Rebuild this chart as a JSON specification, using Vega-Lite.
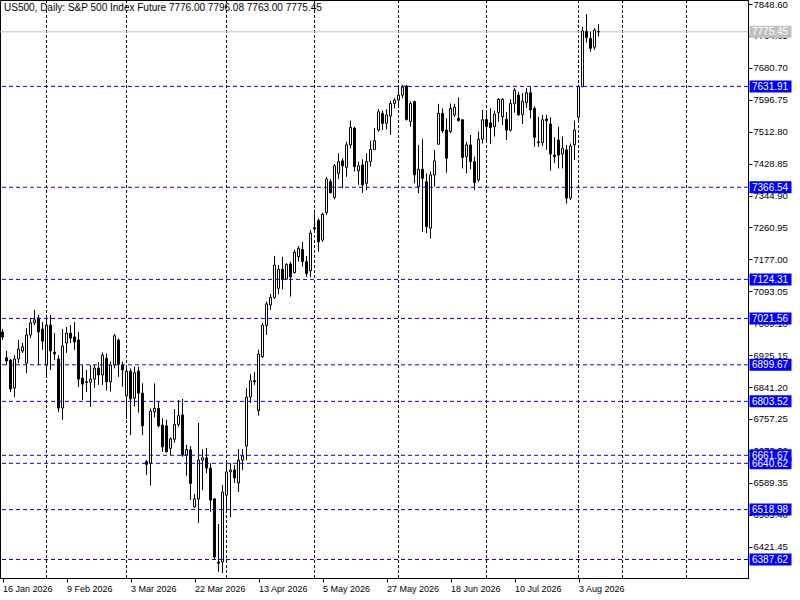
{
  "$schema": "https://vega.github.io/schema/vega-lite/v6.json",
  "width": 748,
  "height": 578,
  "autosize": {"type": "none"},
  "padding": {"left": 0, "top": 0, "right": 52, "bottom": 22},
  "background": "white",
  "config": {"view": {"stroke": "black", "strokeWidth": 1}, "scale": {"continuousPadding": 0}},
  "resolve": {"axis": {"x": "independent", "y": "independent"}},
  "datasets": {
    "candles": [
      {"i":0,"o":6986,"h":6994,"l":6965,"c":6973},
      {"i":1,"o":6918,"h":6936,"l":6899,"c":6910},
      {"i":2,"o":6912,"h":6915,"l":6828,"c":6836},
      {"i":3,"o":6839,"h":6925,"l":6815,"c":6915},
      {"i":4,"o":6915,"h":6965,"l":6904,"c":6941},
      {"i":5,"o":6936,"h":6957,"l":6931,"c":6947},
      {"i":6,"o":6904,"h":6996,"l":6878,"c":6978},
      {"i":7,"o":6978,"h":7023,"l":6970,"c":7010},
      {"i":8,"o":7010,"h":7044,"l":7004,"c":7018},
      {"i":9,"o":7023,"h":7031,"l":6899,"c":6986},
      {"i":10,"o":6994,"h":7012,"l":6939,"c":6962},
      {"i":11,"o":6899,"h":7031,"l":6865,"c":7004},
      {"i":12,"o":7004,"h":7031,"l":6886,"c":6936},
      {"i":13,"o":6933,"h":6983,"l":6912,"c":6928},
      {"i":14,"o":6915,"h":6925,"l":6776,"c":6786},
      {"i":15,"o":6786,"h":6994,"l":6755,"c":6949},
      {"i":16,"o":6957,"h":6999,"l":6931,"c":6983},
      {"i":17,"o":6983,"h":7004,"l":6957,"c":6970},
      {"i":18,"o":6973,"h":7012,"l":6939,"c":6960},
      {"i":19,"o":6965,"h":6986,"l":6841,"c":6862},
      {"i":20,"o":6865,"h":6899,"l":6807,"c":6849},
      {"i":21,"o":6855,"h":6886,"l":6828,"c":6853},
      {"i":22,"o":6854,"h":6899,"l":6789,"c":6862},
      {"i":23,"o":6862,"h":6899,"l":6839,"c":6891},
      {"i":24,"o":6891,"h":6907,"l":6847,"c":6873},
      {"i":25,"o":6873,"h":6932,"l":6847,"c":6925},
      {"i":26,"o":6917,"h":6930,"l":6832,"c":6855},
      {"i":27,"o":6855,"h":6908,"l":6829,"c":6899},
      {"i":28,"o":6899,"h":6981,"l":6890,"c":6976},
      {"i":29,"o":6965,"h":6969,"l":6868,"c":6901},
      {"i":30,"o":6899,"h":6908,"l":6842,"c":6886},
      {"i":31,"o":6818,"h":6895,"l":6757,"c":6883},
      {"i":32,"o":6883,"h":6890,"l":6715,"c":6810},
      {"i":33,"o":6812,"h":6895,"l":6790,"c":6879},
      {"i":34,"o":6883,"h":6895,"l":6774,"c":6825},
      {"i":35,"o":6825,"h":6851,"l":6715,"c":6739},
      {"i":36,"o":6645,"h":6649,"l":6610,"c":6638},
      {"i":37,"o":6641,"h":6785,"l":6582,"c":6778},
      {"i":38,"o":6776,"h":6851,"l":6761,"c":6785},
      {"i":39,"o":6785,"h":6803,"l":6735,"c":6739},
      {"i":40,"o":6741,"h":6759,"l":6671,"c":6684},
      {"i":41,"o":6739,"h":6755,"l":6669,"c":6671},
      {"i":42,"o":6680,"h":6709,"l":6662,"c":6705},
      {"i":43,"o":6704,"h":6783,"l":6695,"c":6743},
      {"i":44,"o":6743,"h":6807,"l":6737,"c":6766},
      {"i":45,"o":6768,"h":6810,"l":6658,"c":6662},
      {"i":46,"o":6662,"h":6689,"l":6608,"c":6677},
      {"i":47,"o":6676,"h":6686,"l":6544,"c":6588},
      {"i":48,"o":6526,"h":6560,"l":6523,"c":6547},
      {"i":49,"o":6547,"h":6747,"l":6484,"c":6649},
      {"i":50,"o":6649,"h":6678,"l":6570,"c":6655},
      {"i":51,"o":6655,"h":6681,"l":6615,"c":6628},
      {"i":52,"o":6628,"h":6641,"l":6513,"c":6544},
      {"i":53,"o":6547,"h":6549,"l":6386,"c":6394},
      {"i":54,"o":6381,"h":6481,"l":6355,"c":6378},
      {"i":55,"o":6381,"h":6584,"l":6352,"c":6565},
      {"i":56,"o":6557,"h":6644,"l":6513,"c":6618},
      {"i":57,"o":6618,"h":6641,"l":6499,"c":6623},
      {"i":58,"o":6623,"h":6636,"l":6589,"c":6602},
      {"i":59,"o":6589,"h":6678,"l":6565,"c":6649},
      {"i":60,"o":6649,"h":6678,"l":6623,"c":6660},
      {"i":61,"o":6686,"h":6839,"l":6649,"c":6815},
      {"i":62,"o":6815,"h":6876,"l":6799,"c":6858},
      {"i":63,"o":6858,"h":6881,"l":6847,"c":6855},
      {"i":64,"o":6779,"h":6939,"l":6766,"c":6928},
      {"i":65,"o":6921,"h":7010,"l":6918,"c":7004},
      {"i":66,"o":7003,"h":7066,"l":6978,"c":7060},
      {"i":67,"o":7057,"h":7086,"l":7044,"c":7077},
      {"i":68,"o":7077,"h":7186,"l":7073,"c":7162},
      {"i":69,"o":7101,"h":7162,"l":7085,"c":7151},
      {"i":70,"o":7151,"h":7184,"l":7098,"c":7123},
      {"i":71,"o":7125,"h":7167,"l":7123,"c":7164},
      {"i":72,"o":7165,"h":7171,"l":7079,"c":7131},
      {"i":73,"o":7142,"h":7202,"l":7140,"c":7196},
      {"i":74,"o":7184,"h":7212,"l":7171,"c":7206},
      {"i":75,"o":7203,"h":7223,"l":7158,"c":7171},
      {"i":76,"o":7171,"h":7186,"l":7131,"c":7140},
      {"i":77,"o":7147,"h":7254,"l":7131,"c":7246},
      {"i":78,"o":7260,"h":7298,"l":7246,"c":7257},
      {"i":79,"o":7279,"h":7285,"l":7197,"c":7223},
      {"i":80,"o":7228,"h":7300,"l":7223,"c":7296},
      {"i":81,"o":7300,"h":7394,"l":7294,"c":7388},
      {"i":82,"o":7381,"h":7388,"l":7351,"c":7352},
      {"i":83,"o":7340,"h":7428,"l":7335,"c":7423},
      {"i":84,"o":7403,"h":7456,"l":7388,"c":7434},
      {"i":85,"o":7436,"h":7443,"l":7364,"c":7423},
      {"i":86,"o":7419,"h":7486,"l":7394,"c":7478},
      {"i":87,"o":7478,"h":7542,"l":7469,"c":7524},
      {"i":88,"o":7522,"h":7526,"l":7408,"c":7421},
      {"i":89,"o":7410,"h":7434,"l":7373,"c":7423},
      {"i":90,"o":7425,"h":7440,"l":7352,"c":7373},
      {"i":91,"o":7377,"h":7456,"l":7359,"c":7434},
      {"i":92,"o":7434,"h":7489,"l":7421,"c":7466},
      {"i":93,"o":7466,"h":7522,"l":7465,"c":7489},
      {"i":94,"o":7517,"h":7572,"l":7513,"c":7565},
      {"i":95,"o":7561,"h":7568,"l":7517,"c":7535},
      {"i":96,"o":7535,"h":7572,"l":7519,"c":7557},
      {"i":97,"o":7554,"h":7594,"l":7504,"c":7587},
      {"i":98,"o":7587,"h":7601,"l":7574,"c":7596},
      {"i":99,"o":7596,"h":7636,"l":7579,"c":7609},
      {"i":100,"o":7609,"h":7636,"l":7601,"c":7630},
      {"i":101,"o":7633,"h":7636,"l":7542,"c":7545},
      {"i":102,"o":7539,"h":7592,"l":7526,"c":7587},
      {"i":103,"o":7592,"h":7594,"l":7377,"c":7399},
      {"i":104,"o":7368,"h":7478,"l":7351,"c":7414},
      {"i":105,"o":7414,"h":7493,"l":7250,"c":7390},
      {"i":106,"o":7381,"h":7403,"l":7246,"c":7263},
      {"i":107,"o":7259,"h":7408,"l":7232,"c":7399},
      {"i":108,"o":7399,"h":7465,"l":7368,"c":7436},
      {"i":109,"o":7480,"h":7586,"l":7478,"c":7561},
      {"i":110,"o":7561,"h":7574,"l":7510,"c":7515},
      {"i":111,"o":7517,"h":7548,"l":7405,"c":7443},
      {"i":112,"o":7513,"h":7587,"l":7509,"c":7574},
      {"i":113,"o":7557,"h":7586,"l":7552,"c":7577},
      {"i":114,"o":7548,"h":7603,"l":7539,"c":7542},
      {"i":115,"o":7544,"h":7545,"l":7416,"c":7445},
      {"i":116,"o":7447,"h":7486,"l":7403,"c":7478},
      {"i":117,"o":7478,"h":7504,"l":7414,"c":7434},
      {"i":118,"o":7434,"h":7447,"l":7359,"c":7379},
      {"i":119,"o":7386,"h":7513,"l":7381,"c":7493},
      {"i":120,"o":7493,"h":7570,"l":7482,"c":7544},
      {"i":121,"o":7545,"h":7561,"l":7486,"c":7526},
      {"i":122,"o":7536,"h":7574,"l":7480,"c":7524},
      {"i":123,"o":7526,"h":7568,"l":7500,"c":7559},
      {"i":124,"o":7563,"h":7601,"l":7539,"c":7598},
      {"i":125,"o":7552,"h":7601,"l":7530,"c":7598},
      {"i":126,"o":7545,"h":7565,"l":7491,"c":7517},
      {"i":127,"o":7517,"h":7598,"l":7513,"c":7587},
      {"i":128,"o":7586,"h":7627,"l":7563,"c":7622},
      {"i":129,"o":7609,"h":7618,"l":7554,"c":7557},
      {"i":130,"o":7558,"h":7614,"l":7533,"c":7593},
      {"i":131,"o":7589,"h":7627,"l":7575,"c":7615},
      {"i":132,"o":7615,"h":7630,"l":7548,"c":7570},
      {"i":133,"o":7574,"h":7579,"l":7473,"c":7498},
      {"i":134,"o":7486,"h":7552,"l":7473,"c":7484},
      {"i":135,"o":7484,"h":7557,"l":7475,"c":7544},
      {"i":136,"o":7546,"h":7557,"l":7465,"c":7542},
      {"i":137,"o":7533,"h":7551,"l":7410,"c":7454},
      {"i":138,"o":7451,"h":7498,"l":7430,"c":7447},
      {"i":139,"o":7491,"h":7526,"l":7416,"c":7451},
      {"i":140,"o":7454,"h":7500,"l":7416,"c":7469},
      {"i":141,"o":7465,"h":7478,"l":7324,"c":7338},
      {"i":142,"o":7338,"h":7482,"l":7333,"c":7475},
      {"i":143,"o":7478,"h":7542,"l":7438,"c":7517},
      {"i":144,"o":7551,"h":7636,"l":7544,"c":7631},
      {"i":145,"o":7631,"h":7789,"l":7630,"c":7778},
      {"i":146,"o":7776,"h":7822,"l":7747,"c":7761},
      {"i":147,"o":7758,"h":7776,"l":7723,"c":7732},
      {"i":148,"o":7735,"h":7785,"l":7728,"c":7780},
      {"i":149,"o":7776.00,"h":7796.08,"l":7763.00,"c":7775.45}
    ],
    "levels": [
      {"p":7631.91,"kind":"level"},
      {"p":7366.54,"kind":"level"},
      {"p":7124.31,"kind":"level"},
      {"p":7021.56,"kind":"level"},
      {"p":6899.67,"kind":"level"},
      {"p":6803.52,"kind":"level"},
      {"p":6661.67,"kind":"level"},
      {"p":6640.62,"kind":"level"},
      {"p":6518.98,"kind":"level"},
      {"p":6387.62,"kind":"level"},
      {"p":7775.45,"kind":"bid"}
    ],
    "grid": [
      {"i":11},{"i":31},{"i":56},{"i":78},{"i":99},{"i":121},{"i":144},{"i":155},{"i":171}
    ],
    "header": [
      {"t":"US500, Daily:  S&P 500  Index Future  7776.00 7796.08 7763.00 7775.45"}
    ]
  },
  "layer": [
    {
      "data": {"name": "grid"},
      "mark": {"type": "rule", "color": "black", "strokeWidth": 1, "strokeDash": [3, 2]},
      "encoding": {
        "x": {"field": "i", "type": "quantitative", "scale": {"domain": [-0.625, 186.375], "nice": false, "zero": false, "padding": 0}, "axis": null}
      }
    },
    {
      "data": {"name": "levels"},
      "transform": [{"filter": "datum.kind == 'bid'"}],
      "mark": {"type": "rule", "color": "#c0c0c0", "strokeWidth": 1},
      "encoding": {
        "y": {"field": "p", "type": "quantitative", "scale": {"domain": [6339.0, 7859.12], "nice": false, "zero": false, "padding": 0}, "axis": null}
      }
    },
    {
      "data": {"name": "candles"},
      "mark": {"type": "rule", "color": "black", "strokeWidth": 1},
      "encoding": {
        "x": {"field": "i", "type": "quantitative", "scale": {"domain": [-0.625, 186.375], "nice": false, "zero": false, "padding": 0}, "axis": null},
        "y": {"field": "l", "type": "quantitative", "scale": {"domain": [6339.0, 7859.12], "nice": false, "zero": false, "padding": 0},
          "axis": {"orient": "right", "title": null, "grid": false,
            "values": [7848.6, 7764.65, 7680.7, 7596.75, 7512.8, 7428.85, 7344.9, 7260.95, 7177.0, 7093.05, 7009.1, 6925.15, 6841.2, 6757.25, 6673.3, 6589.35, 6505.4, 6421.45],
            "format": ".2f", "tickSize": 4, "tickColor": "black", "domainColor": "black", "labelColor": "black",
            "labelFont": "Liberation Sans", "labelFontSize": 9.5, "labelPadding": 1, "labelOverlap": false, "labelFlush": false, "labelBaseline": "middle"}},
        "y2": {"field": "h"}
      }
    },
    {
      "data": {"name": "candles"},
      "mark": {"type": "bar", "size": 2, "stroke": "black", "strokeWidth": 1},
      "encoding": {
        "x": {"field": "i", "type": "quantitative", "scale": {"domain": [-0.625, 186.375], "nice": false, "zero": false, "padding": 0},
          "axis": {"title": null, "grid": false, "values": [0, 16, 32, 48, 64, 80, 96, 112, 128, 144],
            "labelExpr": "['16 Jan 2026','9 Feb 2026','3 Mar 2026','22 Mar 2026','13 Apr 2026','5 May 2026','27 May 2026','18 Jun 2026','10 Jul 2026','3 Aug 2026'][datum.value / 16]",
            "tickSize": 4, "tickColor": "black", "domainColor": "black", "labelColor": "black",
            "labelFont": "Liberation Sans", "labelFontSize": 9, "labelAlign": "left", "labelOffset": 0, "labelPadding": 2, "labelOverlap": false, "labelFlush": false}},
        "y": {"field": "o", "type": "quantitative", "scale": {"domain": [6339.0, 7859.12], "nice": false, "zero": false, "padding": 0}, "axis": null},
        "y2": {"field": "c"},
        "fill": {"condition": {"test": "datum.c < datum.o", "value": "black"}, "value": "white"}
      }
    },
    {
      "data": {"name": "levels"},
      "transform": [{"filter": "datum.kind == 'level'"}],
      "mark": {"type": "rule", "color": "#0000ff", "strokeWidth": 1, "strokeDash": [4, 3]},
      "encoding": {
        "y": {"field": "p", "type": "quantitative", "scale": {"domain": [6339.0, 7859.12], "nice": false, "zero": false, "padding": 0}, "axis": null}
      }
    },
    {
      "data": {"name": "levels"},
      "mark": {"type": "point", "shape": "M-1,-0.2857L1,-0.2857L1,0.2857L-1,0.2857Z", "filled": true, "size": 1764, "opacity": 1, "strokeWidth": 0},
      "encoding": {
        "x": {"datum": 192, "type": "quantitative", "scale": {"domain": [-0.625, 186.375], "nice": false, "zero": false, "padding": 0}, "axis": null},
        "y": {"field": "p", "type": "quantitative", "scale": {"domain": [6339.0, 7859.12], "nice": false, "zero": false, "padding": 0}, "axis": null},
        "color": {"condition": {"test": "datum.kind == 'bid'", "value": "#c0c0c0"}, "value": "#0000ff"}
      }
    },
    {
      "data": {"name": "levels"},
      "mark": {"type": "text", "align": "left", "baseline": "middle", "dx": -18.5, "dy": 0.5, "font": "Liberation Sans", "fontSize": 10, "color": "white"},
      "encoding": {
        "x": {"datum": 192, "type": "quantitative", "scale": {"domain": [-0.625, 186.375], "nice": false, "zero": false, "padding": 0}, "axis": null},
        "y": {"field": "p", "type": "quantitative", "scale": {"domain": [6339.0, 7859.12], "nice": false, "zero": false, "padding": 0}, "axis": null},
        "text": {"field": "p", "type": "quantitative", "format": ".2f"}
      }
    },
    {
      "data": {"name": "header"},
      "mark": {"type": "text", "align": "left", "baseline": "alphabetic", "dx": 4, "dy": 11, "font": "Liberation Sans", "fontSize": 10, "color": "black"},
      "encoding": {
        "x": {"datum": -0.625, "type": "quantitative", "scale": {"domain": [-0.625, 186.375], "nice": false, "zero": false, "padding": 0}, "axis": null},
        "y": {"datum": 7859.12, "type": "quantitative", "scale": {"domain": [6339.0, 7859.12], "nice": false, "zero": false, "padding": 0}, "axis": null},
        "text": {"field": "t"}
      }
    }
  ]
}
